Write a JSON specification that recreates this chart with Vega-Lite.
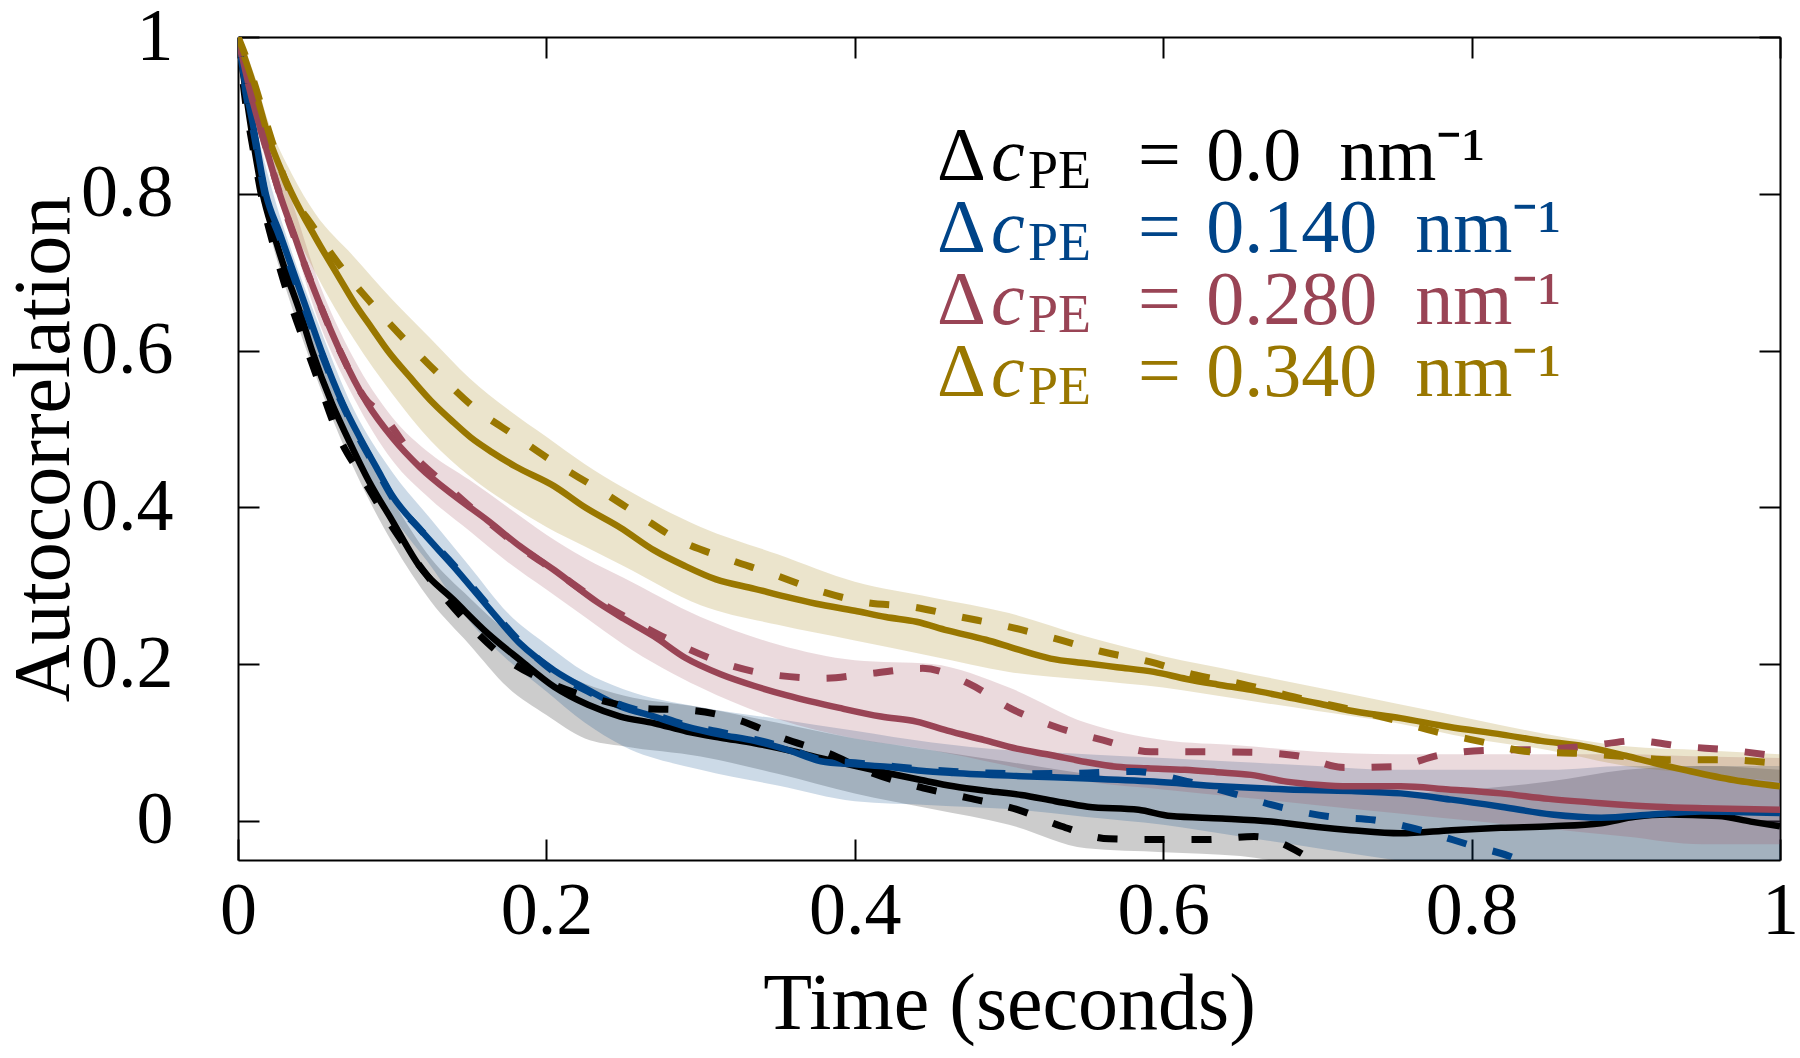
{
  "$schema": "https://vega.github.io/schema/vega-lite/v6.json",
  "width": 1542,
  "height": 823,
  "autosize": {"type": "none"},
  "padding": {"left": 238, "top": 37, "right": 20, "bottom": 198},
  "background": "white",
  "config": {
    "view": {"stroke": null},
    "font": "Liberation Serif",
    "axis": {
      "domainColor": "black", "domainWidth": 2,
      "tickColor": "black", "tickWidth": 2, "tickSize": -21,
      "labelFont": "Liberation Serif", "labelFontSize": 74, "labelColor": "black",
      "titleFont": "Liberation Serif", "titleFontSize": 80, "titleFontWeight": "normal", "titleColor": "black",
      "grid": false, "labelOverlap": false, "labelBound": false, "labelFlush": false, "zindex": 1
    }
  },
  "datasets": {
    "solid": [
      {"s":"0.0","t":0,"v":1},{"s":"0.0","t":0.005,"v":0.93},{"s":"0.0","t":0.01,"v":0.865},{"s":"0.0","t":0.016,"v":0.8},{"s":"0.0","t":0.023,"v":0.75},{"s":"0.0","t":0.031,"v":0.7},{"s":"0.0","t":0.04,"v":0.65},{"s":"0.0","t":0.048,"v":0.6},{"s":"0.0","t":0.061,"v":0.532},{"s":"0.0","t":0.071,"v":0.489},{"s":"0.0","t":0.085,"v":0.433},{"s":"0.0","t":0.1,"v":0.383},{"s":"0.0","t":0.118,"v":0.324},{"s":"0.0","t":0.14,"v":0.2815},{"s":"0.0","t":0.162,"v":0.239},{"s":"0.0","t":0.183,"v":0.205},{"s":"0.0","t":0.205,"v":0.171},{"s":"0.0","t":0.227,"v":0.148},{"s":"0.0","t":0.248,"v":0.133},{"s":"0.0","t":0.27,"v":0.1245},{"s":"0.0","t":0.291,"v":0.114},{"s":"0.0","t":0.313,"v":0.106},{"s":"0.0","t":0.335,"v":0.099},{"s":"0.0","t":0.357,"v":0.09},{"s":"0.0","t":0.378,"v":0.08},{"s":"0.0","t":0.4,"v":0.07},{"s":"0.0","t":0.421,"v":0.061},{"s":"0.0","t":0.443,"v":0.052},{"s":"0.0","t":0.464,"v":0.044},{"s":"0.0","t":0.486,"v":0.038},{"s":"0.0","t":0.508,"v":0.033},{"s":"0.0","t":0.53,"v":0.025},{"s":"0.0","t":0.551,"v":0.018},{"s":"0.0","t":0.584,"v":0.014},{"s":"0.0","t":0.605,"v":0.006},{"s":"0.0","t":0.638,"v":0.003},{"s":"0.0","t":0.67,"v":-0.001},{"s":"0.0","t":0.7,"v":-0.008},{"s":"0.0","t":0.722,"v":-0.012},{"s":"0.0","t":0.754,"v":-0.016},{"s":"0.0","t":0.787,"v":-0.012},{"s":"0.0","t":0.819,"v":-0.009},{"s":"0.0","t":0.852,"v":-0.007},{"s":"0.0","t":0.884,"v":-0.003},{"s":"0.0","t":0.906,"v":0.005},{"s":"0.0","t":0.927,"v":0.008},{"s":"0.0","t":0.96,"v":0.006},{"s":"0.0","t":0.981,"v":-0.001},{"s":"0.0","t":1.0,"v":-0.007},
      {"s":"0.140","t":0,"v":1},{"s":"0.140","t":0.005,"v":0.935},{"s":"0.140","t":0.01,"v":0.885},{"s":"0.140","t":0.018,"v":0.8},{"s":"0.140","t":0.027,"v":0.75},{"s":"0.140","t":0.036,"v":0.7},{"s":"0.140","t":0.045,"v":0.65},{"s":"0.140","t":0.054,"v":0.6},{"s":"0.140","t":0.068,"v":0.532},{"s":"0.140","t":0.079,"v":0.489},{"s":"0.140","t":0.09,"v":0.45},{"s":"0.140","t":0.1,"v":0.415},{"s":"0.140","t":0.118,"v":0.372},{"s":"0.140","t":0.14,"v":0.324},{"s":"0.140","t":0.162,"v":0.273},{"s":"0.140","t":0.183,"v":0.226},{"s":"0.140","t":0.205,"v":0.192},{"s":"0.140","t":0.227,"v":0.167},{"s":"0.140","t":0.248,"v":0.146},{"s":"0.140","t":0.27,"v":0.133},{"s":"0.140","t":0.291,"v":0.12},{"s":"0.140","t":0.313,"v":0.11},{"s":"0.140","t":0.335,"v":0.102},{"s":"0.140","t":0.357,"v":0.09},{"s":"0.140","t":0.378,"v":0.076},{"s":"0.140","t":0.4,"v":0.072},{"s":"0.140","t":0.421,"v":0.069},{"s":"0.140","t":0.443,"v":0.064},{"s":"0.140","t":0.464,"v":0.061},{"s":"0.140","t":0.508,"v":0.057},{"s":"0.140","t":0.551,"v":0.054},{"s":"0.140","t":0.594,"v":0.05},{"s":"0.140","t":0.637,"v":0.044},{"s":"0.140","t":0.681,"v":0.04},{"s":"0.140","t":0.722,"v":0.038},{"s":"0.140","t":0.754,"v":0.035},{"s":"0.140","t":0.787,"v":0.027},{"s":"0.140","t":0.819,"v":0.018},{"s":"0.140","t":0.852,"v":0.008},{"s":"0.140","t":0.884,"v":0.004},{"s":"0.140","t":0.917,"v":0.008},{"s":"0.140","t":0.949,"v":0.012},{"s":"0.140","t":1.0,"v":0.01},
      {"s":"0.280","t":0,"v":1},{"s":"0.280","t":0.005,"v":0.955},{"s":"0.280","t":0.01,"v":0.915},{"s":"0.280","t":0.018,"v":0.86},{"s":"0.280","t":0.027,"v":0.8},{"s":"0.280","t":0.036,"v":0.75},{"s":"0.280","t":0.045,"v":0.7},{"s":"0.280","t":0.055,"v":0.65},{"s":"0.280","t":0.066,"v":0.6},{"s":"0.280","t":0.084,"v":0.532},{"s":"0.280","t":0.1,"v":0.489},{"s":"0.280","t":0.118,"v":0.451},{"s":"0.280","t":0.14,"v":0.415},{"s":"0.280","t":0.162,"v":0.383},{"s":"0.280","t":0.183,"v":0.35},{"s":"0.280","t":0.205,"v":0.32},{"s":"0.280","t":0.233,"v":0.279},{"s":"0.280","t":0.25,"v":0.258},{"s":"0.280","t":0.27,"v":0.235},{"s":"0.280","t":0.29,"v":0.208},{"s":"0.280","t":0.313,"v":0.187},{"s":"0.280","t":0.335,"v":0.172},{"s":"0.280","t":0.356,"v":0.16},{"s":"0.280","t":0.39,"v":0.144},{"s":"0.280","t":0.417,"v":0.133},{"s":"0.280","t":0.44,"v":0.1265},{"s":"0.280","t":0.46,"v":0.115},{"s":"0.280","t":0.484,"v":0.103},{"s":"0.280","t":0.505,"v":0.092},{"s":"0.280","t":0.527,"v":0.084},{"s":"0.280","t":0.55,"v":0.075},{"s":"0.280","t":0.57,"v":0.069},{"s":"0.280","t":0.59,"v":0.067},{"s":"0.280","t":0.614,"v":0.065},{"s":"0.280","t":0.635,"v":0.062},{"s":"0.280","t":0.657,"v":0.0586},{"s":"0.280","t":0.68,"v":0.05},{"s":"0.280","t":0.7,"v":0.046},{"s":"0.280","t":0.72,"v":0.044},{"s":"0.280","t":0.754,"v":0.044},{"s":"0.280","t":0.785,"v":0.04},{"s":"0.280","t":0.819,"v":0.035},{"s":"0.280","t":0.85,"v":0.028},{"s":"0.280","t":0.884,"v":0.0225},{"s":"0.280","t":0.92,"v":0.018},{"s":"0.280","t":0.95,"v":0.016},{"s":"0.280","t":1.0,"v":0.014},
      {"s":"0.340","t":0,"v":1},{"s":"0.340","t":0.005,"v":0.97},{"s":"0.340","t":0.01,"v":0.94},{"s":"0.340","t":0.015,"v":0.905},{"s":"0.340","t":0.02,"v":0.871},{"s":"0.340","t":0.027,"v":0.835},{"s":"0.340","t":0.035,"v":0.8},{"s":"0.340","t":0.05,"v":0.745},{"s":"0.340","t":0.065,"v":0.695},{"s":"0.340","t":0.076,"v":0.659},{"s":"0.340","t":0.087,"v":0.628},{"s":"0.340","t":0.097,"v":0.6},{"s":"0.340","t":0.112,"v":0.565},{"s":"0.340","t":0.127,"v":0.532},{"s":"0.340","t":0.14,"v":0.508},{"s":"0.340","t":0.151,"v":0.489},{"s":"0.340","t":0.165,"v":0.47},{"s":"0.340","t":0.18,"v":0.452},{"s":"0.340","t":0.205,"v":0.427},{"s":"0.340","t":0.225,"v":0.4},{"s":"0.340","t":0.248,"v":0.374},{"s":"0.340","t":0.27,"v":0.345},{"s":"0.340","t":0.29,"v":0.325},{"s":"0.340","t":0.31,"v":0.308},{"s":"0.340","t":0.335,"v":0.296},{"s":"0.340","t":0.355,"v":0.286},{"s":"0.340","t":0.375,"v":0.277},{"s":"0.340","t":0.4,"v":0.268},{"s":"0.340","t":0.42,"v":0.26},{"s":"0.340","t":0.44,"v":0.254},{"s":"0.340","t":0.46,"v":0.243},{"s":"0.340","t":0.485,"v":0.231},{"s":"0.340","t":0.505,"v":0.219},{"s":"0.340","t":0.527,"v":0.207},{"s":"0.340","t":0.55,"v":0.201},{"s":"0.340","t":0.57,"v":0.196},{"s":"0.340","t":0.594,"v":0.19},{"s":"0.340","t":0.615,"v":0.181},{"s":"0.340","t":0.635,"v":0.174},{"s":"0.340","t":0.657,"v":0.167},{"s":"0.340","t":0.68,"v":0.158},{"s":"0.340","t":0.7,"v":0.15},{"s":"0.340","t":0.72,"v":0.141},{"s":"0.340","t":0.754,"v":0.131},{"s":"0.340","t":0.785,"v":0.12},{"s":"0.340","t":0.82,"v":0.11},{"s":"0.340","t":0.845,"v":0.102},{"s":"0.340","t":0.873,"v":0.095},{"s":"0.340","t":0.9,"v":0.083},{"s":"0.340","t":0.92,"v":0.073},{"s":"0.340","t":0.94,"v":0.064},{"s":"0.340","t":0.97,"v":0.052},{"s":"0.340","t":1.0,"v":0.044}
    ],
    "dashed": [
      {"s":"0.0","t":0,"v":1},{"s":"0.0","t":0.005,"v":0.915},{"s":"0.0","t":0.01,"v":0.855},{"s":"0.0","t":0.016,"v":0.79},{"s":"0.0","t":0.025,"v":0.72},{"s":"0.0","t":0.035,"v":0.655},{"s":"0.0","t":0.045,"v":0.6},{"s":"0.0","t":0.055,"v":0.545},{"s":"0.0","t":0.065,"v":0.492},{"s":"0.0","t":0.08,"v":0.44},{"s":"0.0","t":0.1,"v":0.375},{"s":"0.0","t":0.125,"v":0.307},{"s":"0.0","t":0.15,"v":0.25},{"s":"0.0","t":0.175,"v":0.205},{"s":"0.0","t":0.2,"v":0.178},{"s":"0.0","t":0.231,"v":0.156},{"s":"0.0","t":0.262,"v":0.1435},{"s":"0.0","t":0.294,"v":0.141},{"s":"0.0","t":0.324,"v":0.129},{"s":"0.0","t":0.354,"v":0.105},{"s":"0.0","t":0.383,"v":0.086},{"s":"0.0","t":0.41,"v":0.062},{"s":"0.0","t":0.444,"v":0.042},{"s":"0.0","t":0.474,"v":0.029},{"s":"0.0","t":0.506,"v":0.014},{"s":"0.0","t":0.534,"v":-0.007},{"s":"0.0","t":0.565,"v":-0.023},{"s":"0.0","t":0.596,"v":-0.024},{"s":"0.0","t":0.628,"v":-0.024},{"s":"0.0","t":0.659,"v":-0.02},{"s":"0.0","t":0.689,"v":-0.041},{"s":"0.0","t":0.7,"v":-0.055},{"s":"0.0","t":0.72,"v":-0.075},
      {"s":"0.140","t":0,"v":1},{"s":"0.140","t":0.005,"v":0.93},{"s":"0.140","t":0.01,"v":0.88},{"s":"0.140","t":0.018,"v":0.795},{"s":"0.140","t":0.027,"v":0.745},{"s":"0.140","t":0.036,"v":0.695},{"s":"0.140","t":0.045,"v":0.645},{"s":"0.140","t":0.054,"v":0.597},{"s":"0.140","t":0.068,"v":0.53},{"s":"0.140","t":0.079,"v":0.487},{"s":"0.140","t":0.09,"v":0.448},{"s":"0.140","t":0.1,"v":0.413},{"s":"0.140","t":0.118,"v":0.372},{"s":"0.140","t":0.14,"v":0.326},{"s":"0.140","t":0.162,"v":0.275},{"s":"0.140","t":0.183,"v":0.228},{"s":"0.140","t":0.205,"v":0.19},{"s":"0.140","t":0.227,"v":0.165},{"s":"0.140","t":0.248,"v":0.148},{"s":"0.140","t":0.27,"v":0.135},{"s":"0.140","t":0.291,"v":0.122},{"s":"0.140","t":0.313,"v":0.113},{"s":"0.140","t":0.335,"v":0.104},{"s":"0.140","t":0.357,"v":0.092},{"s":"0.140","t":0.378,"v":0.078},{"s":"0.140","t":0.4,"v":0.074},{"s":"0.140","t":0.421,"v":0.07},{"s":"0.140","t":0.443,"v":0.066},{"s":"0.140","t":0.464,"v":0.063},{"s":"0.140","t":0.486,"v":0.061},{"s":"0.140","t":0.508,"v":0.06},{"s":"0.140","t":0.551,"v":0.061},{"s":"0.140","t":0.581,"v":0.063},{"s":"0.140","t":0.612,"v":0.052},{"s":"0.140","t":0.645,"v":0.035},{"s":"0.140","t":0.675,"v":0.018},{"s":"0.140","t":0.707,"v":0.0055},{"s":"0.140","t":0.737,"v":0.001},{"s":"0.140","t":0.767,"v":-0.012},{"s":"0.140","t":0.799,"v":-0.031},{"s":"0.140","t":0.828,"v":-0.048},{"s":"0.140","t":0.84,"v":-0.06},
      {"s":"0.280","t":0,"v":1},{"s":"0.280","t":0.005,"v":0.955},{"s":"0.280","t":0.01,"v":0.915},{"s":"0.280","t":0.018,"v":0.86},{"s":"0.280","t":0.027,"v":0.8},{"s":"0.280","t":0.045,"v":0.7},{"s":"0.280","t":0.066,"v":0.6},{"s":"0.280","t":0.084,"v":0.535},{"s":"0.280","t":0.092,"v":0.522},{"s":"0.280","t":0.112,"v":0.47},{"s":"0.280","t":0.135,"v":0.428},{"s":"0.280","t":0.157,"v":0.39},{"s":"0.280","t":0.181,"v":0.352},{"s":"0.280","t":0.206,"v":0.318},{"s":"0.280","t":0.233,"v":0.281},{"s":"0.280","t":0.261,"v":0.25},{"s":"0.280","t":0.289,"v":0.222},{"s":"0.280","t":0.318,"v":0.199},{"s":"0.280","t":0.348,"v":0.186},{"s":"0.280","t":0.38,"v":0.182},{"s":"0.280","t":0.41,"v":0.188},{"s":"0.280","t":0.444,"v":0.1945},{"s":"0.280","t":0.474,"v":0.175},{"s":"0.280","t":0.501,"v":0.1435},{"s":"0.280","t":0.53,"v":0.12},{"s":"0.280","t":0.561,"v":0.103},{"s":"0.280","t":0.592,"v":0.088},{"s":"0.280","t":0.623,"v":0.088},{"s":"0.280","t":0.656,"v":0.0875},{"s":"0.280","t":0.687,"v":0.083},{"s":"0.280","t":0.7175,"v":0.068},{"s":"0.280","t":0.749,"v":0.069},{"s":"0.280","t":0.78,"v":0.084},{"s":"0.280","t":0.81,"v":0.09},{"s":"0.280","t":0.843,"v":0.091},{"s":"0.280","t":0.874,"v":0.095},{"s":"0.280","t":0.906,"v":0.102},{"s":"0.280","t":0.937,"v":0.095},{"s":"0.280","t":0.968,"v":0.09},{"s":"0.280","t":1.0,"v":0.082},
      {"s":"0.340","t":0,"v":1},{"s":"0.340","t":0.005,"v":0.975},{"s":"0.340","t":0.01,"v":0.945},{"s":"0.340","t":0.02,"v":0.88},{"s":"0.340","t":0.031,"v":0.815},{"s":"0.340","t":0.049,"v":0.757},{"s":"0.340","t":0.067,"v":0.706},{"s":"0.340","t":0.087,"v":0.659},{"s":"0.340","t":0.108,"v":0.614},{"s":"0.340","t":0.13,"v":0.57},{"s":"0.340","t":0.154,"v":0.526},{"s":"0.340","t":0.179,"v":0.492},{"s":"0.340","t":0.206,"v":0.456},{"s":"0.340","t":0.233,"v":0.424},{"s":"0.340","t":0.26,"v":0.39},{"s":"0.340","t":0.286,"v":0.358},{"s":"0.340","t":0.316,"v":0.335},{"s":"0.340","t":0.345,"v":0.316},{"s":"0.340","t":0.376,"v":0.294},{"s":"0.340","t":0.406,"v":0.279},{"s":"0.340","t":0.437,"v":0.273},{"s":"0.340","t":0.469,"v":0.26},{"s":"0.340","t":0.499,"v":0.248},{"s":"0.340","t":0.529,"v":0.233},{"s":"0.340","t":0.56,"v":0.216},{"s":"0.340","t":0.591,"v":0.203},{"s":"0.340","t":0.621,"v":0.186},{"s":"0.340","t":0.65,"v":0.175},{"s":"0.340","t":0.685,"v":0.158},{"s":"0.340","t":0.715,"v":0.145},{"s":"0.340","t":0.745,"v":0.131},{"s":"0.340","t":0.776,"v":0.114},{"s":"0.340","t":0.806,"v":0.101},{"s":"0.340","t":0.838,"v":0.088},{"s":"0.340","t":0.869,"v":0.086},{"s":"0.340","t":0.9,"v":0.082},{"s":"0.340","t":0.93,"v":0.078},{"s":"0.340","t":0.964,"v":0.078},{"s":"0.340","t":0.994,"v":0.074},{"s":"0.340","t":1.0,"v":0.073}
    ],
    "band": [
      {"s":"0.0","t":0,"lo":1,"hi":1},{"s":"0.0","t":0.01,"lo":0.85,"hi":0.88},{"s":"0.0","t":0.02,"lo":0.755,"hi":0.79},{"s":"0.0","t":0.035,"lo":0.655,"hi":0.695},{"s":"0.0","t":0.05,"lo":0.57,"hi":0.615},{"s":"0.0","t":0.075,"lo":0.45,"hi":0.5},{"s":"0.0","t":0.1,"lo":0.355,"hi":0.41},{"s":"0.0","t":0.125,"lo":0.28,"hi":0.335},{"s":"0.0","t":0.15,"lo":0.225,"hi":0.285},{"s":"0.0","t":0.175,"lo":0.17,"hi":0.24},{"s":"0.0","t":0.2,"lo":0.135,"hi":0.2},{"s":"0.0","t":0.225,"lo":0.105,"hi":0.175},{"s":"0.0","t":0.25,"lo":0.095,"hi":0.16},{"s":"0.0","t":0.3,"lo":0.082,"hi":0.145},{"s":"0.0","t":0.35,"lo":0.06,"hi":0.125},{"s":"0.0","t":0.4,"lo":0.035,"hi":0.105},{"s":"0.0","t":0.45,"lo":0.015,"hi":0.09},{"s":"0.0","t":0.5,"lo":-0.005,"hi":0.075},{"s":"0.0","t":0.55,"lo":-0.035,"hi":0.06},{"s":"0.0","t":0.6,"lo":-0.04,"hi":0.05},{"s":"0.0","t":0.65,"lo":-0.045,"hi":0.045},{"s":"0.0","t":0.7,"lo":-0.06,"hi":0.04},{"s":"0.0","t":0.75,"lo":-0.07,"hi":0.035},{"s":"0.0","t":0.8,"lo":-0.07,"hi":0.04},{"s":"0.0","t":0.85,"lo":-0.07,"hi":0.05},{"s":"0.0","t":0.9,"lo":-0.07,"hi":0.065},{"s":"0.0","t":0.95,"lo":-0.07,"hi":0.07},{"s":"0.0","t":1.0,"lo":-0.07,"hi":0.065},
      {"s":"0.140","t":0,"lo":1,"hi":1},{"s":"0.140","t":0.01,"lo":0.87,"hi":0.9},{"s":"0.140","t":0.02,"lo":0.78,"hi":0.82},{"s":"0.140","t":0.035,"lo":0.685,"hi":0.725},{"s":"0.140","t":0.05,"lo":0.6,"hi":0.645},{"s":"0.140","t":0.075,"lo":0.48,"hi":0.525},{"s":"0.140","t":0.1,"lo":0.39,"hi":0.445},{"s":"0.140","t":0.125,"lo":0.325,"hi":0.385},{"s":"0.140","t":0.15,"lo":0.255,"hi":0.325},{"s":"0.140","t":0.175,"lo":0.205,"hi":0.265},{"s":"0.140","t":0.2,"lo":0.165,"hi":0.225},{"s":"0.140","t":0.225,"lo":0.125,"hi":0.19},{"s":"0.140","t":0.25,"lo":0.095,"hi":0.168},{"s":"0.140","t":0.3,"lo":0.065,"hi":0.145},{"s":"0.140","t":0.35,"lo":0.045,"hi":0.13},{"s":"0.140","t":0.4,"lo":0.025,"hi":0.115},{"s":"0.140","t":0.45,"lo":0.02,"hi":0.1},{"s":"0.140","t":0.5,"lo":0.015,"hi":0.09},{"s":"0.140","t":0.55,"lo":0.005,"hi":0.085},{"s":"0.140","t":0.6,"lo":-0.005,"hi":0.08},{"s":"0.140","t":0.65,"lo":-0.02,"hi":0.075},{"s":"0.140","t":0.7,"lo":-0.035,"hi":0.07},{"s":"0.140","t":0.75,"lo":-0.05,"hi":0.065},{"s":"0.140","t":0.8,"lo":-0.065,"hi":0.065},{"s":"0.140","t":0.85,"lo":-0.07,"hi":0.065},{"s":"0.140","t":0.9,"lo":-0.07,"hi":0.07},{"s":"0.140","t":0.95,"lo":-0.07,"hi":0.07},{"s":"0.140","t":1.0,"lo":-0.07,"hi":0.07},
      {"s":"0.280","t":0,"lo":1,"hi":1},{"s":"0.280","t":0.01,"lo":0.9,"hi":0.935},{"s":"0.280","t":0.02,"lo":0.83,"hi":0.87},{"s":"0.280","t":0.035,"lo":0.745,"hi":0.79},{"s":"0.280","t":0.05,"lo":0.65,"hi":0.7},{"s":"0.280","t":0.075,"lo":0.54,"hi":0.59},{"s":"0.280","t":0.1,"lo":0.46,"hi":0.515},{"s":"0.280","t":0.125,"lo":0.41,"hi":0.468},{"s":"0.280","t":0.15,"lo":0.37,"hi":0.435},{"s":"0.280","t":0.175,"lo":0.33,"hi":0.4},{"s":"0.280","t":0.2,"lo":0.295,"hi":0.365},{"s":"0.280","t":0.225,"lo":0.26,"hi":0.335},{"s":"0.280","t":0.25,"lo":0.225,"hi":0.31},{"s":"0.280","t":0.3,"lo":0.17,"hi":0.26},{"s":"0.280","t":0.35,"lo":0.13,"hi":0.225},{"s":"0.280","t":0.4,"lo":0.105,"hi":0.205},{"s":"0.280","t":0.45,"lo":0.09,"hi":0.2},{"s":"0.280","t":0.5,"lo":0.07,"hi":0.17},{"s":"0.280","t":0.55,"lo":0.05,"hi":0.125},{"s":"0.280","t":0.6,"lo":0.04,"hi":0.103},{"s":"0.280","t":0.65,"lo":0.03,"hi":0.096},{"s":"0.280","t":0.7,"lo":0.02,"hi":0.088},{"s":"0.280","t":0.75,"lo":0.01,"hi":0.085},{"s":"0.280","t":0.8,"lo":0.0,"hi":0.085},{"s":"0.280","t":0.85,"lo":-0.01,"hi":0.085},{"s":"0.280","t":0.9,"lo":-0.02,"hi":0.085},{"s":"0.280","t":0.95,"lo":-0.03,"hi":0.082},{"s":"0.280","t":1.0,"lo":-0.03,"hi":0.08},
      {"s":"0.340","t":0,"lo":1,"hi":1},{"s":"0.340","t":0.01,"lo":0.925,"hi":0.955},{"s":"0.340","t":0.02,"lo":0.845,"hi":0.89},{"s":"0.340","t":0.035,"lo":0.76,"hi":0.825},{"s":"0.340","t":0.05,"lo":0.7,"hi":0.775},{"s":"0.340","t":0.075,"lo":0.615,"hi":0.72},{"s":"0.340","t":0.1,"lo":0.545,"hi":0.665},{"s":"0.340","t":0.125,"lo":0.485,"hi":0.615},{"s":"0.340","t":0.15,"lo":0.44,"hi":0.565},{"s":"0.340","t":0.175,"lo":0.405,"hi":0.525},{"s":"0.340","t":0.2,"lo":0.375,"hi":0.49},{"s":"0.340","t":0.225,"lo":0.35,"hi":0.455},{"s":"0.340","t":0.25,"lo":0.325,"hi":0.425},{"s":"0.340","t":0.3,"lo":0.275,"hi":0.375},{"s":"0.340","t":0.35,"lo":0.25,"hi":0.34},{"s":"0.340","t":0.4,"lo":0.23,"hi":0.305},{"s":"0.340","t":0.45,"lo":0.21,"hi":0.285},{"s":"0.340","t":0.5,"lo":0.19,"hi":0.265},{"s":"0.340","t":0.55,"lo":0.18,"hi":0.235},{"s":"0.340","t":0.6,"lo":0.17,"hi":0.21},{"s":"0.340","t":0.65,"lo":0.155,"hi":0.19},{"s":"0.340","t":0.7,"lo":0.14,"hi":0.17},{"s":"0.340","t":0.75,"lo":0.125,"hi":0.15},{"s":"0.340","t":0.8,"lo":0.105,"hi":0.13},{"s":"0.340","t":0.85,"lo":0.09,"hi":0.11},{"s":"0.340","t":0.9,"lo":0.07,"hi":0.095},{"s":"0.340","t":0.95,"lo":0.06,"hi":0.09},{"s":"0.340","t":1.0,"lo":0.05,"hi":0.085}
    ],
    "leg": [
      {"s":"0.0","txt":"=\u20040.0\u2002nm⁻¹"},
      {"s":"0.140","txt":"=\u20040.140\u2002nm⁻¹"},
      {"s":"0.280","txt":"=\u20040.280\u2002nm⁻¹"},
      {"s":"0.340","txt":"=\u20040.340\u2002nm⁻¹"}
    ]
  },
  "layer": [
    {
      "layer": [
        {
          "data": {"name": "band"},
          "mark": {"type": "area", "opacity": 0.2, "clip": true, "interpolate": "monotone"},
          "encoding": {
            "x": {"field": "t", "type": "quantitative", "scale": {"domain": [0, 1], "nice": false, "zero": false}, "axis": null},
            "y": {"field": "lo", "type": "quantitative", "scale": {"domain": [-0.05, 1], "nice": false, "zero": false}, "axis": null},
            "y2": {"field": "hi"},
            "color": {"field": "s", "type": "nominal", "scale": {"domain": ["0.0", "0.140", "0.280", "0.340"], "range": ["#000000", "#004488", "#994455", "#997700"]}, "legend": null}
          }
        },
        {
          "mark": {"type": "rule", "color": "black", "strokeWidth": 2},
          "encoding": {"y": {"datum": 0, "type": "quantitative", "axis": null}}
        },
        {
          "data": {"name": "solid"},
          "mark": {"type": "line", "strokeWidth": 6.5, "clip": true, "interpolate": "monotone"},
          "encoding": {
            "x": {"field": "t", "type": "quantitative", "axis": {"orient": "bottom", "values": [0, 0.2, 0.4, 0.6, 0.8, 1], "format": "~g", "title": "Time (seconds)", "labelPadding": 36, "titlePadding": 17}},
            "y": {"field": "v", "type": "quantitative", "axis": {"orient": "left", "values": [0, 0.2, 0.4, 0.6, 0.8, 1], "format": "~g", "title": "Autocorrelation", "labelPadding": 86, "titlePadding": -5}},
            "color": {"field": "s", "type": "nominal", "legend": null}
          }
        },
        {
          "data": {"name": "dashed"},
          "mark": {"type": "line", "strokeWidth": 7, "strokeDash": [20, 27], "clip": true, "interpolate": "monotone"},
          "encoding": {
            "x": {"field": "t", "type": "quantitative", "axis": null},
            "y": {"field": "v", "type": "quantitative", "axis": null},
            "color": {"field": "s", "type": "nominal", "legend": null}
          }
        },
        {
          "data": {"name": "solid"},
          "mark": {"type": "point", "opacity": 0},
          "encoding": {
            "x": {"field": "t", "type": "quantitative", "axis": {"orient": "top", "values": [0, 0.2, 0.4, 0.6, 0.8, 1], "labels": false, "title": null}},
            "y": {"field": "v", "type": "quantitative", "axis": {"orient": "right", "values": [0, 0.2, 0.4, 0.6, 0.8, 1], "labels": false, "title": null}}
          }
        }
      ],
      "resolve": {"axis": {"x": "independent", "y": "independent"}}
    },
    {
      "data": {"name": "leg"},
      "encoding": {
        "x": {"datum": 0.4533, "type": "quantitative", "axis": null},
        "y": {"field": "s", "type": "ordinal", "scale": {"type": "point", "domain": ["0.0", "0.140", "0.280", "0.340"], "range": [143, 359], "padding": 0}, "axis": null},
        "color": {"field": "s", "type": "nominal", "legend": null}
      },
      "layer": [
        {"mark": {"type": "text", "text": "Δ", "align": "left", "baseline": "alphabetic", "fontSize": 76}},
        {"mark": {"type": "text", "text": "c", "align": "left", "baseline": "alphabetic", "fontSize": 76, "fontStyle": "italic", "dx": 54}},
        {"mark": {"type": "text", "text": "PE", "align": "left", "baseline": "alphabetic", "fontSize": 54, "dx": 91, "dy": 8}},
        {"mark": {"type": "text", "align": "left", "baseline": "alphabetic", "fontSize": 76, "dx": 201}, "encoding": {"text": {"field": "txt"}}}
      ]
    }
  ],
  "resolve": {"scale": {"y": "independent"}}
}
